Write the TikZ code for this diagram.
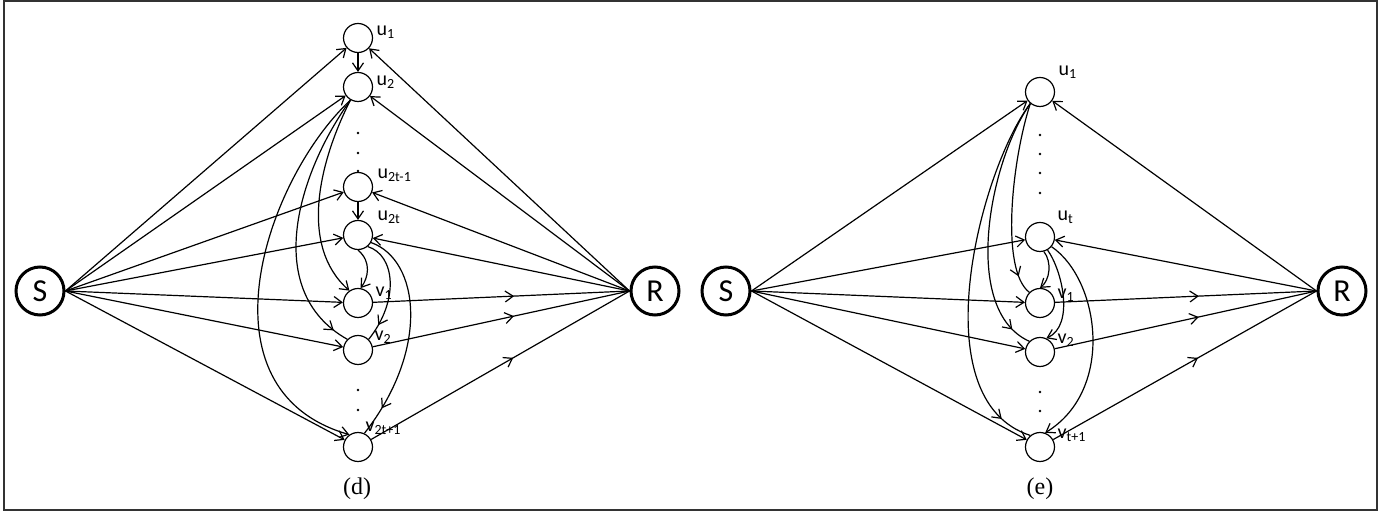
\documentclass[tikz,border=0pt]{standalone}
\usepackage{fontspec}
\setmainfont{Liberation Serif}
\newfontfamily\calfont{Carlito}
\usetikzlibrary{arrows.meta,decorations.markings}
\begin{document}
\begin{tikzpicture}[x=0.5pt,y=-0.5pt,line width=0.6pt,>={Straight Barb[length=4pt,width=5.5pt]},
		relay/.style={circle,draw,minimum size=14.5pt,inner sep=0pt},
		term/.style={circle,draw,line width=1.5pt,minimum size=24pt,inner sep=0pt,font=\calfont\fontsize{16}{18}\selectfont},
		lbl/.style={anchor=west,inner sep=0pt,font=\calfont\fontsize{10}{12}\selectfont},
		mid/.style={postaction={decorate,decoration={markings,mark=at position 0.55 with {\arrow{>}}}}},
		late/.style={postaction={decorate,decoration={markings,mark=at position #1 with {\arrow{>}}}}},
		late/.default=0.9,
		dot/.style={circle,fill,inner sep=0pt,minimum size=1.4pt}]
	\useasboundingbox (0,0) rectangle (1382,512);
	\draw[black!80,line width=1pt] (4,1) rectangle (1377,510);
	% (d)
	\node[term] (Sd) at (40,291) {S};
	\node[term] (Rd) at (655,291) {R};
	\node[relay] (u1d) at (358,38) {};
	\node[relay] (u2d) at (358,87) {};
	\node[relay] (u2t1d) at (358,187) {};
	\node[relay] (u2td) at (358,235) {};
	\node[relay] (v1d) at (358,303) {};
	\node[relay] (v2d) at (358,350) {};
	\node[relay] (v2t1d) at (358,447) {};
	\node[lbl] (lu1d) at ([shift={(18,-6)}]u1d) {u\textsubscript{1}};
	\node[lbl] (lu2d) at ([shift={(18,-5)}]u2d) {u\textsubscript{2}};
	\node[lbl] (lu2t1d) at ([shift={(19,-12)}]u2t1d) {u\textsubscript{2t-1}};
	\node[lbl] (lu2td) at ([shift={(19,-18)}]u2td) {u\textsubscript{2t}};
	\node[lbl] (lv1d) at ([shift={(17,-10)}]v1d) {v\textsubscript{1}};
	\node[lbl] (lv2d) at ([shift={(16,-13)}]v2d) {v\textsubscript{2}};
	\node[lbl] (lv2t1d) at ([shift={(7,-19)}]v2t1d) {v\textsubscript{2t+1}};
	\foreach \y [count=\i] in {133,153,171,390,410}
		\node[dot] (dd\i) at (358,\y) {};
	\foreach \n in {u1d,u2d,u2t1d,u2td,v1d,v2d,v2t1d}
		\draw[->] (Sd.east) -- (\n);
	\foreach \n in {u1d,u2d,u2t1d,u2td}
		\draw[->] (Rd.west) -- (\n);
	\foreach \n in {v1d,v2d,v2t1d}
		\draw[mid] (\n) -- (Rd.west);
	\draw[->] (u1d) -- (u2d);
	\draw[->] (u2t1d) -- (u2td);
	\draw[->] (u2d.240) .. controls (320,160) and (298,245) .. (v1d.125);
	\draw[late=0.94] (u2d.240) .. controls (300,170) and (260,290) .. (v2d.135);
	\draw[->] (u2d.240) .. controls (265,180) and (195,390) .. (v2t1d.125);
	\draw[->] (u2td.270) .. controls (372,262) and (368,278) .. (v1d.80);
	\draw[late=0.84] (u2td.310) .. controls (395,255) and (400,300) .. (v2d.45);
	\draw[late=0.86] (u2td.330) .. controls (420,260) and (430,350) .. (v2t1d.65);
	\node[font=\fontsize{12}{14}\selectfont] (capd) at (357,489) {(d)};
	% (e)
	\node[term] (Se) at (726,291) {S};
	\node[term] (Re) at (1342,291) {R};
	\node[relay] (u1e) at (1040,92) {};
	\node[relay] (ute) at (1040,237) {};
	\node[relay] (v1e) at (1040,303) {};
	\node[relay] (v2e) at (1040,352) {};
	\node[relay] (vt1e) at (1040,447) {};
	\node[lbl] (lu1e) at ([shift={(18,-20)}]u1e) {u\textsubscript{1}};
	\node[lbl] (lute) at ([shift={(17,-20)}]ute) {u\textsubscript{t}};
	\node[lbl] (lv1e) at ([shift={(17,-8)}]v1e) {v\textsubscript{1}};
	\node[lbl] (lv2e) at ([shift={(17,-12)}]v2e) {v\textsubscript{2}};
	\node[lbl] (lvt1e) at ([shift={(17,-12)}]vt1e) {v\textsubscript{t+1}};
	\foreach \y [count=\i] in {135,154,173,193,392,411}
		\node[dot] (de\i) at (1040,\y) {};
	\foreach \n in {u1e,ute,v1e,v2e,vt1e}
		\draw[->] (Se.east) -- (\n);
	\foreach \n in {u1e,ute}
		\draw[->] (Re.west) -- (\n);
	\foreach \n in {v1e,v2e,vt1e}
		\draw[mid] (\n) -- (Re.west);
	\draw[late] (u1e.230) .. controls (1012,160) and (1000,270) .. (v1e.135);
	\draw[late=0.92] (u1e.230) .. controls (990,160) and (960,310) .. (v2e.135);
	\draw[late=0.91] (u1e.230) .. controls (980,170) and (920,400) .. (vt1e.130);
	\draw[->] (ute.-75) .. controls (1052,262) and (1050,280) .. (v1e.90);
	\draw[->] (ute.-60) .. controls (1062,270) and (1075,325) .. (v2e.65);
	\draw[->] (ute.-40) .. controls (1100,280) and (1115,390) .. (vt1e.70);
	\node[font=\fontsize{12}{14}\selectfont] (cape) at (1040,489) {(e)};
\end{tikzpicture}
\end{document}
